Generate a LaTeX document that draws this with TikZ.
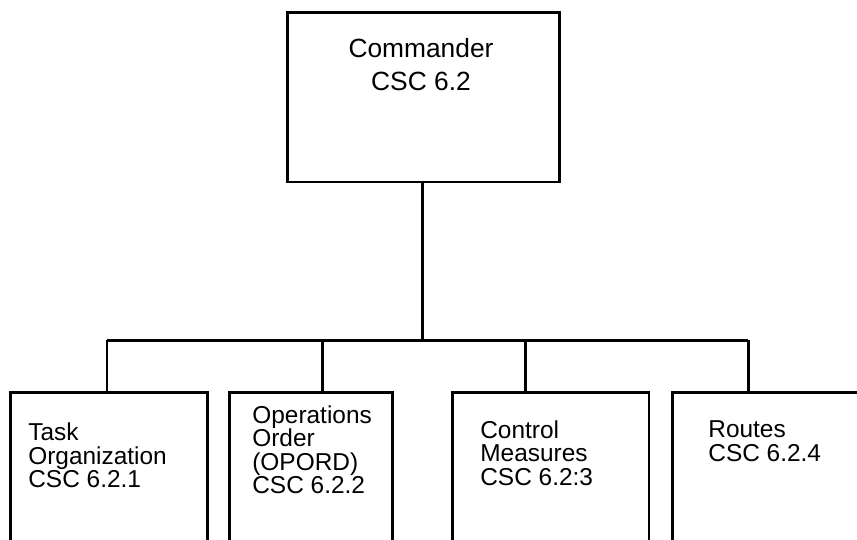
\documentclass[tikz,border=0pt]{standalone}
\usepackage{fontspec}
\setmainfont{Liberation Sans}
\usetikzlibrary{positioning,calc}

\tikzset{
  box/.style={draw,line width=1.7pt,inner sep=0pt},
  lbl/.style={anchor=north west,align=left,inner sep=0pt,font=\fontsize{13.9}{13.4}\selectfont},
  link/.style={line width=1.7pt}
}

\begin{document}
\begin{tikzpicture}[x=0.02cm,y=-0.02cm]
\useasboundingbox (0,0) rectangle (857,539);
\clip (0,0) rectangle (857,539);
% top level
\node[box,minimum width=5.46cm,minimum height=3.4cm] (cmd) at (423.5,97) {};
\node[anchor=north,align=center,inner sep=0pt,font=\fontsize{15}{18.7}\selectfont] (cmdtxt) at (421,38) {Commander\\CSC 6.2};
% second level boxes (cut off at the page edge)
\node[box,minimum width=3.96cm,minimum height=3.12cm] (task) at (109,470) {};
\node[box,minimum width=3.28cm,minimum height=3.12cm] (opord) at (311,470) {};
\node[box,minimum width=3.94cm,minimum height=3.12cm] (ctrl) at (550.5,470) {};
\node[box,minimum width=3.96cm,minimum height=3.12cm] (routes) at (771,470) {};
\node[lbl] (tasktxt) at (28,422.5) {Task\\Organization\\CSC 6.2.1};
\node[lbl] (opordtxt) at (252,405) {Operations\\Order\\(OPORD)\\CSC 6.2.2};
\node[lbl] (ctrltxt) at (480,420) {Control\\Measures\\CSC 6.2:3};
\node[lbl] (routestxt) at (708,420.5) {Routes\\CSC 6.2.4};
% connectors
\coordinate (bus) at (422,340);
\coordinate (j1) at (107,340); \coordinate (j2) at (322,340);
\coordinate (j3) at (525,340); \coordinate (j4) at (748,340);
\draw[link] (bus |- cmd.south) -- (bus);
\draw[link] (j1) -- (j4);
\draw[link] (j1) -- (j1 |- task.north);
\draw[link] (j2) -- (j2 |- opord.north);
\draw[link] (j3) -- (j3 |- ctrl.north);
\draw[link] (j4) -- (j4 |- routes.north);
\end{tikzpicture}
\end{document}
